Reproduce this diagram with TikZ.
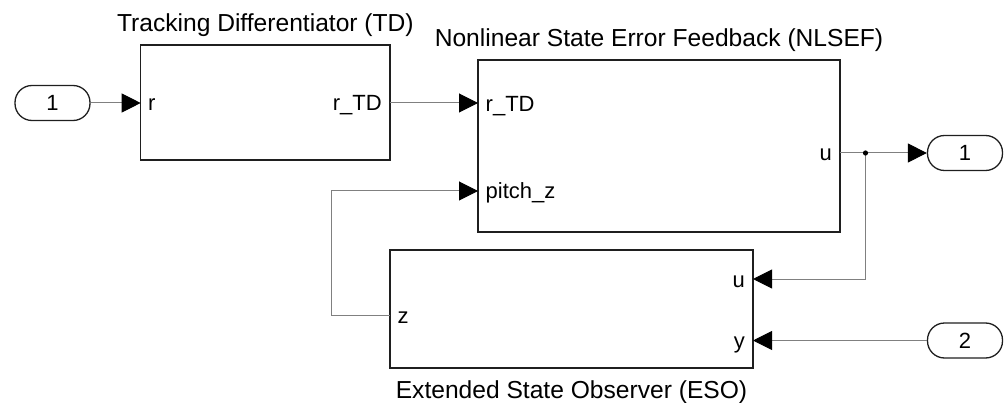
\documentclass[tikz,border=0pt]{standalone}
\usepackage{fontspec}
\setmainfont{Liberation Sans}
\usetikzlibrary{arrows.meta}
\begin{document}
\begin{tikzpicture}[x=1pt,y=-1pt,
  blockbox/.style={draw=black!88,line width=1.4pt,inner sep=0pt},
  portbox/.style={draw=black!88,line width=1.3pt,inner sep=0pt,minimum width=75pt,minimum height=35pt,rounded corners=17pt,font=\fontsize{22}{26}\selectfont},
  wire/.style={draw=black!50,line width=1pt},
  tip/.style={-{Triangle[length=19pt,width=19pt,color=black,fill=black]}},
  plabel/.style={inner sep=0pt,font=\fontsize{22}{26}\selectfont},
  title/.style={inner sep=0pt,anchor=base,font=\fontsize{24.6}{29}\selectfont}]
\useasboundingbox (0,0) rectangle (1008,403);
% blocks
\node[blockbox,minimum width=249.3pt,minimum height=115pt] (TD) at (265.35,102.5) {};
\node[blockbox,minimum width=362pt,minimum height=172pt] (NL) at (659,146) {};
\node[blockbox,minimum width=363pt,minimum height=118pt] (ESO) at (571.5,309) {};
% ports
\node[portbox] (in1) at (52.5,103) {1};
\node[portbox] (out1) at (965,153) {1};
\node[portbox] (in2) at (965,340.5) {2};
% titles
\node[title] (tTD) at (265.35,31.7) {Tracking Differentiator (TD)};
\node[title] (tNL) at (659,46.7) {Nonlinear State Error Feedback (NLSEF)};
\node[title] (tESO) at (571.5,398.3) {Extended State Observer (ESO)};
% port coordinates
\coordinate (TDin) at (140.7,103);
\coordinate (TDout) at (390,103);
\coordinate (Nr) at (478,103);
\coordinate (Np) at (478,191);
\coordinate (Nu) at (840,153);
\coordinate (Eu) at (753,279);
\coordinate (Ey) at (753,340.5);
\coordinate (Ez) at (390,315);
\coordinate (dot) at (865.5,153);
\coordinate (fb) at (331,315);
% port labels
\node[plabel,anchor=base west] (lr) at (148,111) {r};
\node[plabel,anchor=base east] (lrtd) at (382,111) {r\_TD};
\node[plabel,anchor=base west] (lnr) at (485.5,111.3) {r\_TD};
\node[plabel,anchor=base west] (lnp) at (485.5,199) {pitch\_z};
\node[plabel,anchor=base east] (lnu) at (832,161) {u};
\node[plabel,anchor=base east] (leu) at (745,287) {u};
\node[plabel,anchor=base east] (ley) at (745,348.5) {y};
\node[plabel,anchor=base west] (lez) at (397.5,323) {z};
% connectors
\draw[wire,tip] (in1.east) -- (TDin);
\draw[wire,tip] (TDout) -- (Nr);
\draw[wire,tip] (Nu) -- (out1.west);
\draw[wire,tip] (Ez) -- (fb) |- (Np);
\draw[wire,tip] (dot) |- (Eu);
\draw[wire,tip] (in2.west) -- (Ey);
\fill[black] (dot) circle (2.6);
\end{tikzpicture}
\end{document}
